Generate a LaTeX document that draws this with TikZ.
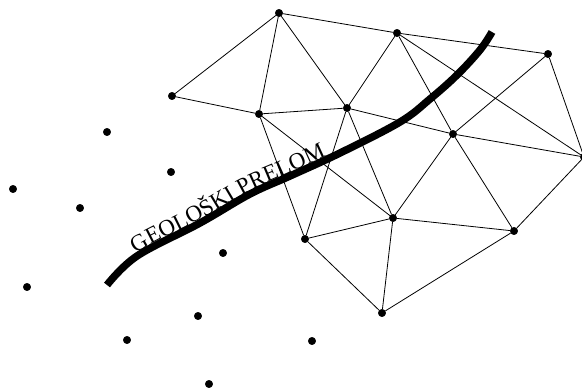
\documentclass[tikz,border=0pt]{standalone}
\usepackage{fontspec}
\setmainfont{Liberation Serif}
\usetikzlibrary{decorations.text}
\begin{document}
\begin{tikzpicture}[x=1pt,y=-1pt,
  dot/.style={circle,fill=black,draw=black,inner sep=0pt,minimum size=7.5pt},
  edge/.style={draw=black,line width=0.8pt},
  fault/.style={line width=7.5pt,line cap=butt,line join=round}]
\useasboundingbox (0,0) rectangle (582,389);
% triangulated points
\node[dot] (A) at (279,13) {};
\node[dot] (B) at (397,33) {};
\node[dot] (C) at (548,54) {};
\node[dot] (D) at (172,96) {};
\node[dot] (E) at (259,114) {};
\node[dot] (F) at (347,108) {};
\node[dot] (G) at (453,134) {};
\node[dot] (H) at (584,157) {};
\node[dot] (I) at (305,239) {};
\node[dot] (J) at (393,218) {};
\node[dot] (K) at (514,231) {};
\node[dot] (L) at (382,313) {};
% scattered points
\node[dot] (p1) at (107,132) {};
\node[dot] (p2) at (171,172) {};
\node[dot] (p3) at (13,189) {};
\node[dot] (p4) at (80,208) {};
\node[dot] (p5) at (223,253) {};
\node[dot] (p6) at (27,287) {};
\node[dot] (p7) at (198,316) {};
\node[dot] (p8) at (127,340) {};
\node[dot] (p9) at (312,341) {};
\node[dot] (p10) at (209,384) {};
% edges
\path[edge] (A) -- (B) (A) -- (D) (A) -- (E) (A) -- (F)
  (D) -- (E) (E) -- (F) (E) -- (I) (E) -- (J)
  (F) -- (B) (F) -- (I) (F) -- (J) (F) -- (G)
  (B) -- (C) (B) -- (G) (B) -- (H)
  (C) -- (G) (C) -- (H) (G) -- (H)
  (G) -- (J) (G) -- (K) (I) -- (J) (J) -- (K)
  (I) -- (L) (J) -- (L) (K) -- (L) (K) -- (H);
% fault
\draw[fault] plot[smooth,tension=0.6] coordinates {(107,285) (137,256) (200,223) (250,194) (290,176) (340,153) (400,122) (430,99) (457,75) (480,50) (492,32)};
\begingroup
\fontsize{23}{27}\selectfont
\path[decorate,decoration={text along path,raise=3pt,
  text align={left indent=42pt},
  text={GEOLOŠKI PRELOM}}]
  plot[smooth,tension=0.6] coordinates {(107,285) (137,256) (200,223) (250,194) (290,176) (340,153) (400,122) (430,99) (457,75) (480,50) (492,32)};
\endgroup
\end{tikzpicture}
\end{document}
